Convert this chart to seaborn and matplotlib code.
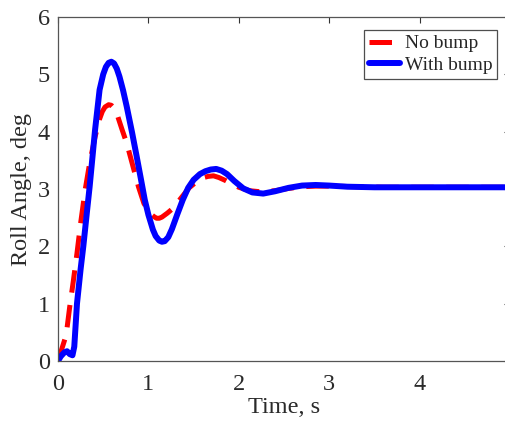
import numpy as np
import pandas as pd
import matplotlib
matplotlib.use("Agg")
import matplotlib.pyplot as plt
import seaborn as sns

# ---- data ----
t_no_bump = [0.00, 0.03, 0.06, 0.09, 0.13, 0.17, 0.21, 0.25, 0.30, 0.35, 0.41, 0.46,
             0.49, 0.52, 0.56, 0.59, 0.62, 0.66, 0.71, 0.76, 0.82, 0.89, 0.95, 1.02,
             1.06, 1.09, 1.12, 1.15, 1.21, 1.27, 1.35, 1.45, 1.55, 1.61, 1.66, 1.72,
             1.78, 1.85, 1.92, 2.00, 2.12, 2.25, 2.40, 2.55, 2.70, 2.85, 3.00, 3.30,
             3.60, 4.00, 5.00]
v_no_bump = [0.00, 0.15, 0.30, 0.45, 0.95, 1.40, 1.88, 2.40, 2.98, 3.45, 3.91, 4.22,
             4.35, 4.43, 4.47, 4.46, 4.41, 4.27, 4.03, 3.80, 3.45, 3.04, 2.75, 2.57,
             2.52, 2.49, 2.49, 2.51, 2.58, 2.66, 2.82, 3.02, 3.15, 3.20, 3.22, 3.23,
             3.20, 3.15, 3.09, 3.03, 2.97, 2.95, 2.97, 3.01, 3.04, 3.05, 3.05, 3.04,
             3.03, 3.03, 3.03]

t_bump = [0.00, 0.03, 0.07, 0.10, 0.13, 0.16, 0.18, 0.21, 0.25, 0.28, 0.32, 0.35,
          0.41, 0.46, 0.50, 0.53, 0.56, 0.59, 0.62, 0.65, 0.68, 0.72, 0.76, 0.82,
          0.87, 0.92, 0.96, 1.00, 1.05, 1.08, 1.12, 1.15, 1.18, 1.22, 1.26, 1.32,
          1.38, 1.44, 1.50, 1.57, 1.63, 1.69, 1.75, 1.81, 1.87, 1.95, 2.05, 2.15,
          2.27, 2.40, 2.55, 2.70, 2.85, 3.00, 3.20, 3.50, 4.00, 4.50, 5.00]
v_bump = [0.00, 0.08, 0.15, 0.17, 0.12, 0.10, 0.25, 1.00, 1.60, 2.00, 2.60, 3.04,
          4.03, 4.73, 5.00, 5.13, 5.20, 5.22, 5.19, 5.10, 4.96, 4.72, 4.44, 3.98,
          3.57, 3.15, 2.81, 2.55, 2.29, 2.18, 2.10, 2.08, 2.09, 2.16, 2.30, 2.56,
          2.81, 3.02, 3.16, 3.26, 3.31, 3.34, 3.35, 3.32, 3.26, 3.14, 3.01, 2.94,
          2.92, 2.96, 3.02, 3.06, 3.07, 3.06, 3.04, 3.03, 3.03, 3.03, 3.03]

series_names = ["No bump", "With bump"]
x_ticks = [0, 1, 2, 3, 4]
y_ticks = [0, 1, 2, 3, 4, 5, 6]

df = pd.concat([
    pd.DataFrame({"Time": t_no_bump, "Roll": v_no_bump, "Series": series_names[0]}),
    pd.DataFrame({"Time": t_bump, "Roll": v_bump, "Series": series_names[1]}),
], ignore_index=True)

sns.set_theme(style="white")
plt.rcParams["font.family"] = ["Liberation Serif", "DejaVu Serif"]

fig = plt.figure(figsize=(5.06, 4.21), dpi=100)
ax = fig.add_axes([58 / 506, 60 / 421, 452 / 506, 344 / 421])

palette = {"No bump": "#ff0000", "With bump": "#0000ff"}
sns.lineplot(data=df[df.Series == "No bump"], x="Time", y="Roll", color=palette["No bump"],
             linewidth=3.6, ax=ax, label="No bump", estimator=None, sort=False)
ax.lines[-1].set_dashes([4.5, 2.5])
sns.lineplot(data=df[df.Series == "With bump"], x="Time", y="Roll", color=palette["With bump"],
             linewidth=4.3, ax=ax, label="With bump", estimator=None, sort=False)
for ln in ax.lines:
    ln.set_solid_joinstyle("round")
    ln.set_dash_joinstyle("round")

ax.set_xlim(0, 5)
ax.set_ylim(0, 6)
ax.set_xticks(x_ticks)
ax.set_yticks(y_ticks)
ax.tick_params(direction="in", length=4, width=0.8, colors="#333333", labelsize=17.5,
               top=True, right=True, labelcolor="#2a2a2a")
ax.tick_params(axis="x", pad=9)
ax.tick_params(axis="y", pad=6)
for s in ax.spines.values():
    s.set_color("#555555")
    s.set_linewidth(0.9)
ax.set_xlabel("Time, s", fontsize=17.5, color="#2a2a2a", labelpad=2)
ax.set_ylabel("Roll Angle, deg", fontsize=17.5, color="#2a2a2a", labelpad=4)

leg = ax.legend(loc="upper right", bbox_to_anchor=((497 - 58) / 452, 1 - (30 - 17) / 344),
                fontsize=14, frameon=True, fancybox=False, edgecolor="#222222",
                handlelength=1.6, handletextpad=0.25, borderpad=0.25, labelspacing=0.2,
                borderaxespad=0)
leg.get_frame().set_linewidth(0.9)

fig.savefig("out.png", dpi=100)
